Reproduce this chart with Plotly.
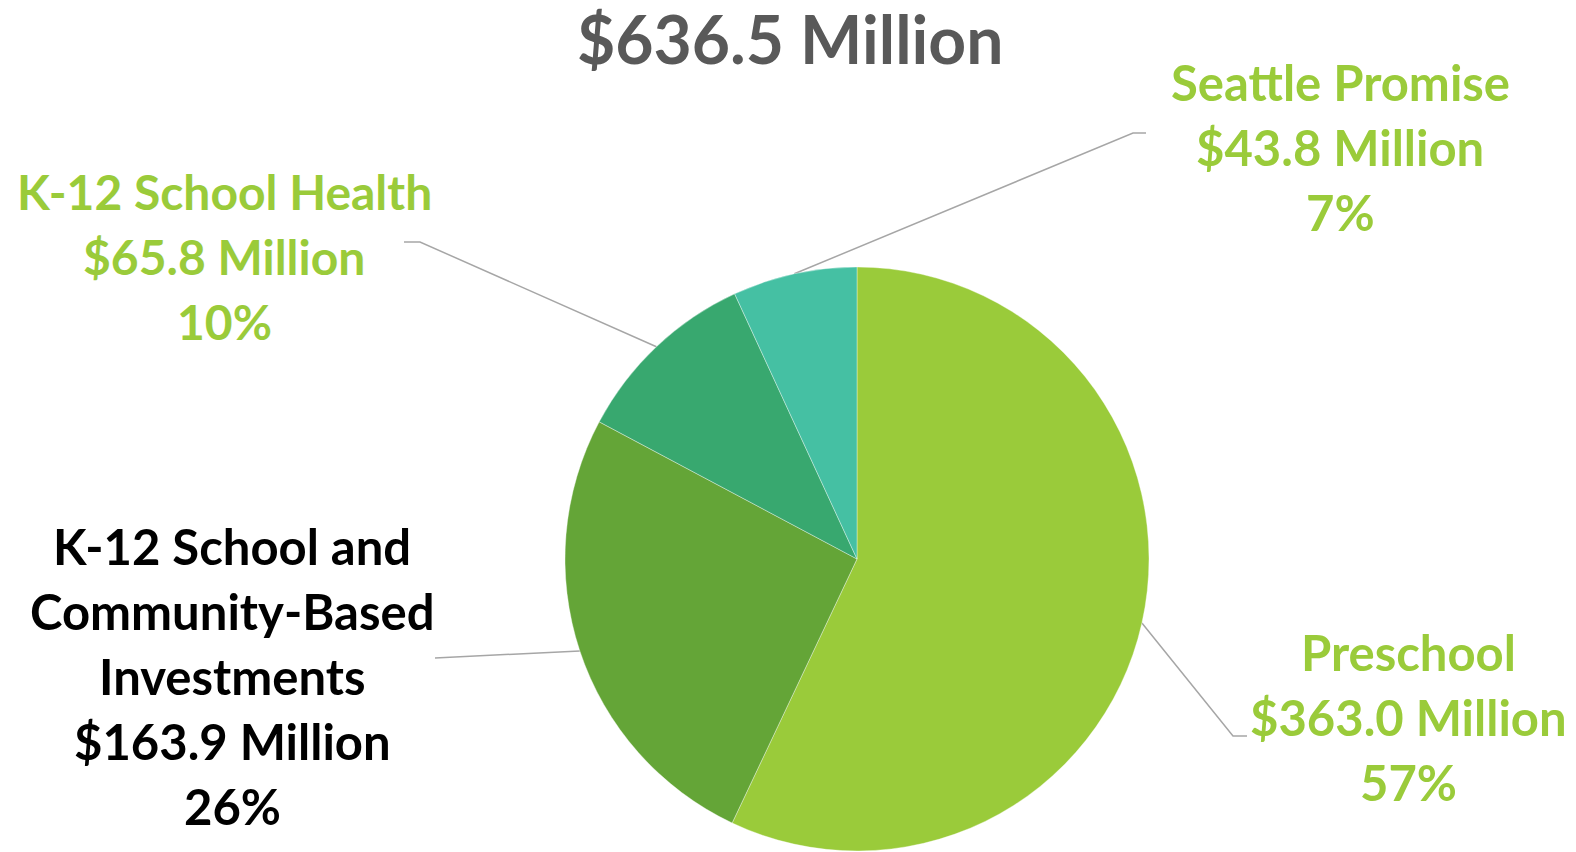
import numpy as np
import plotly.graph_objects as go

# data
categories = ["Preschool", "K-12 School and Community-Based Investments",
              "K-12 School Health", "Seattle Promise"]
amounts = [363.0, 163.9, 65.8, 43.8]          # $ millions
pct_labels = ["57%", "26%", "10%", "7%"]
label_lines = [
    ["Preschool", "$363.0 Million", "57%"],
    ["K-12 School and", "Community-Based", "Investments", "$163.9 Million", "26%"],
    ["K-12 School Health", "$65.8 Million", "10%"],
    ["Seattle Promise", "$43.8 Million", "7%"],
]
title_text = "$636.5 Million"

colors = ["#9ACB3A", "#64A537", "#38A86F", "#45C0A3"]
label_colors = ["#9ACB3A", "#000000", "#9ACB3A", "#9ACB3A"]

W, H = 1576, 852
cx, cy, r = 857, 559, 292   # pie centre / radius in pixels

# label block placement (centre x, first line y) and leader elbows, in pixels
label_pos = [(1408, 652), (232, 546), (224, 191), (1340, 82)]
label_size = [49, 49, 48, 49]
elbows = [[(1233, 736), (1247, 736)],
          [(435, 658)],
          [(420, 242), (404, 242)],
          [(1133, 133), (1146, 133)]]
line_h = 65
FONT = "Lato"

fig = go.Figure()

fig.add_trace(go.Pie(
    labels=categories,
    values=amounts,
    sort=False,
    direction="clockwise",
    rotation=0,
    marker=dict(colors=colors, line=dict(color="rgba(255,255,255,0.6)", width=0.6)),
    textinfo="none",
    hoverinfo="label+value+percent",
    showlegend=False,
    domain=dict(x=[(cx - r) / W, (cx + r) / W],
                y=[(H - cy - r) / H, (H - cy + r) / H]),
))

# leader lines: start at the slice mid-angle on the pie edge
total = sum(amounts)
cum = 0.0
for i, v in enumerate(amounts):
    mid = (cum + v / 2) / total * 2 * np.pi
    cum += v
    px = cx + r * np.sin(mid)
    py = cy - r * np.cos(mid)
    xs = [px] + [p[0] for p in elbows[i]]
    ys = [py] + [p[1] for p in elbows[i]]
    fig.add_trace(go.Scatter(x=xs, y=ys, mode="lines",
                             line=dict(color="#A6A6A6", width=1.5),
                             hoverinfo="skip", showlegend=False))

    lx, ly = label_pos[i]
    for j, t in enumerate(label_lines[i]):
        fig.add_annotation(x=lx, y=ly + j * line_h, text=f"<b>{t}</b>",
                           showarrow=False, xanchor="center", yanchor="middle",
                           font=dict(family=FONT, size=label_size[i],
                                     color=label_colors[i]))

fig.add_annotation(x=790, y=38, text=f"<b>{title_text}</b>", showarrow=False,
                   xanchor="center", yanchor="middle",
                   font=dict(family=FONT, size=66, color="#595959"))

fig.update_layout(
    width=W, height=H,
    margin=dict(l=0, r=0, t=0, b=0),
    paper_bgcolor="white", plot_bgcolor="rgba(0,0,0,0)",
    xaxis=dict(range=[0, W], visible=False, fixedrange=True),
    yaxis=dict(range=[H, 0], visible=False, fixedrange=True),
)

# drop the browser's default 8px body margin so the figure sits at the page corner
fig.write_html("out.html", config={"displayModeBar": False},
               post_script="document.body.style.margin='0';")
